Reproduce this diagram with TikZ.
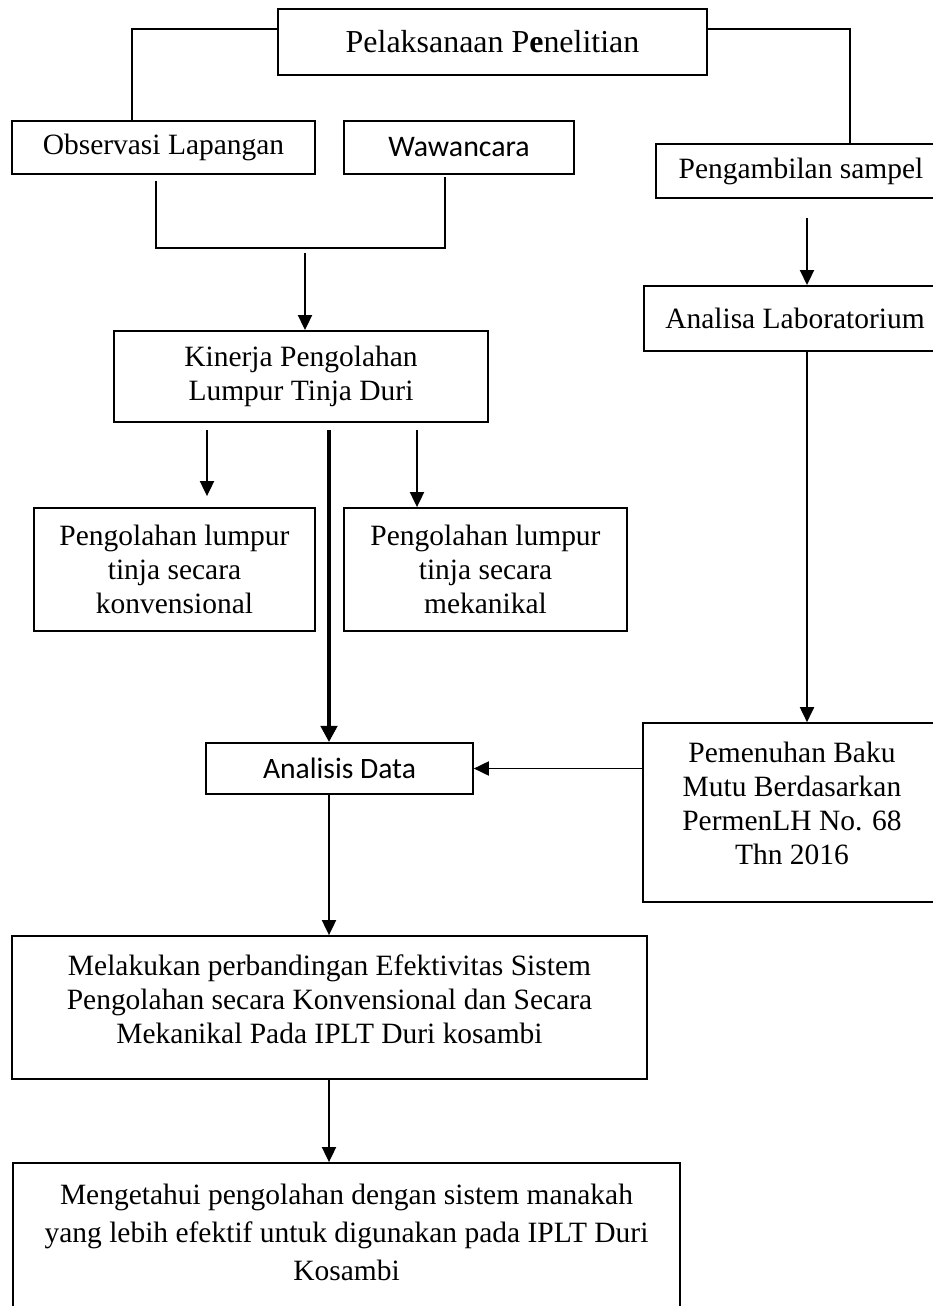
\documentclass[tikz,border=0pt]{standalone}
\usepackage{fontspec}
\setmainfont{Liberation Serif}
\newfontfamily\calibri{Carlito}
\usetikzlibrary{calc,arrows.meta}

\begin{document}
\begin{tikzpicture}[x=0.01353cm, y=-0.01353cm,
  boite/.style={draw, line width=0.75pt, align=center, inner sep=0pt,
    font=\fontsize{11.35}{13.1}\selectfont},
  fleche/.style={line width=0.75pt, -{Triangle[length=5.8pt,width=5.4pt]}},
  ligne/.style={line width=0.75pt}]
  \useasboundingbox (0,0) rectangle (933,1306);
  \clip (0,0) rectangle (933,1306);

  % Kotak atas
  \node[boite, font=\fontsize{12.3}{14}\selectfont, minimum width=165pt, minimum height=25.4pt] (pel) at (492.5,42) {Pelaksanaan P\textbf{e}nelitian};
  \node[boite, minimum width=116.5pt, minimum height=20.4pt] (obs) at (163.5,147.5) {Observasi Lapangan};
  \node[boite, font=\calibri\fontsize{11.5}{13.1}\selectfont, minimum width=88.5pt, minimum height=20.4pt] (waw) at (459,147.5) {Wawancara};
  \node[boite, minimum width=111.5pt, minimum height=20.8pt] (amb) at (801,171) {Pengambilan sampel};
  \node[boite, minimum width=116.2pt, minimum height=25pt] (lab) at (795,318.5) {Analisa Laboratorium};

  % Kotak tengah
  \node[boite, minimum width=143.8pt, minimum height=35pt] (kin) at (301,376.5) {Kinerja Pengolahan\\Lumpur Tinja Duri};
  \node[boite, minimum width=108.1pt, minimum height=47.3pt] (kon) at (174.5,569.5) {Pengolahan lumpur\\tinja secara\\konvensional};
  \node[boite, minimum width=108.8pt, minimum height=47.3pt] (mek) at (485.5,569.5) {Pengolahan lumpur\\tinja secara\\mekanikal};
  \node[boite, font=\calibri\fontsize{11.4}{13.1}\selectfont, minimum width=102.7pt, minimum height=19.6pt] (ana) at (339.5,768.5) {Analisis Data};
  \node[boite, minimum width=114.6pt, minimum height=68.8pt] (pem) at (792,812.5) {Pemenuhan Baku\\Mutu Berdasarkan\\PermenLH No. 68\\Thn 2016\\[-5.8pt]\mbox{}};

  % Kotak bawah
  \node[boite, minimum width=244.2pt, minimum height=55pt] (mel) at (329.5,1007.5) {Melakukan perbandingan Efektivitas Sistem\\Pengolahan secara Konvensional dan Secara\\Mekanikal Pada IPLT Duri kosambi\\[-6.6pt]\mbox{}};
  \node[boite, font=\fontsize{11.35}{14.7}\selectfont, minimum width=256.5pt, minimum height=60.4pt] (men) at (346.5,1241.5) {Mengetahui pengolahan dengan sistem manakah\\yang lebih efektif untuk digunakan pada IPLT Duri\\Kosambi\\[-7.4pt]\mbox{}};

  % Cabang dari kotak atas
  \coordinate (kiri) at (132,29);
  \coordinate (kanan) at (850,29);
  \draw[ligne] (pel.west |- kiri) -| (kiri |- obs.north);
  \draw[ligne] (pel.east |- kanan) -| (kanan |- amb.north);

  % Gabungan observasi dan wawancara
  \coordinate (bl) at (156,248);
  \coordinate (br) at (445,248);
  \coordinate (bm) at (305,253);
  \draw[ligne] ($(bl |- obs.south)+(0,6)$) -- (bl) -- (br) -- ($(br |- waw.south)+(0,2)$);
  \draw[fleche] (bm) -- (bm |- kin.north);

  % Kolom kanan
  \coordinate (rc) at (807,218);
  \draw[fleche] (rc) -- (rc |- lab.north);
  \draw[fleche] (rc |- lab.south) -- (rc |- pem.north);
  \draw[fleche] (pem.west |- ana.east) -- (ana.east);

  % Dari kinerja
  \coordinate (ka) at (207,430);
  \coordinate (kb) at (417,430);
  \coordinate (kc) at (329,430);
  \draw[fleche] (ka) -- ($(ka |- kon.north)+(0,-11)$);
  \draw[fleche] (kb) -- (kb |- mek.north);
  \draw[line width=1.8pt, -{Triangle[length=6.2pt,width=6.2pt]}] (kc) -- (kc |- ana.north);

  % Ke bawah
  \draw[fleche] (kc |- ana.south) -- (kc |- mel.north);
  \draw[fleche] (kc |- mel.south) -- (kc |- men.north);
\end{tikzpicture}
\end{document}
